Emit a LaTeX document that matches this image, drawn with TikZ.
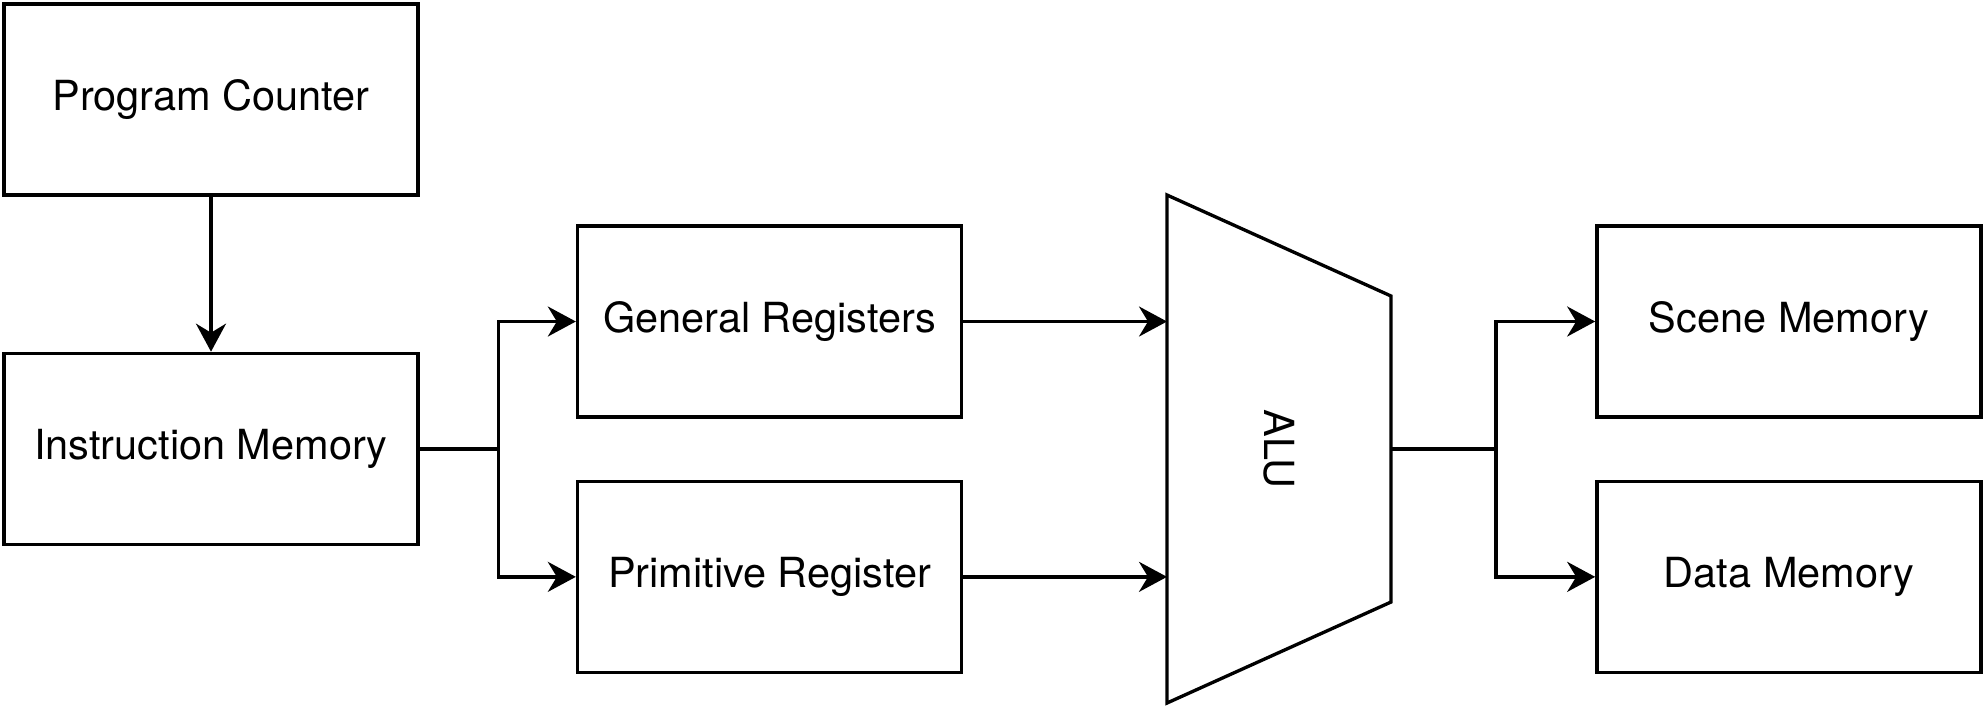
\documentclass[tikz,border=0pt]{standalone}
\usepackage{fontspec}
\setmainfont{TeX Gyre Heros}
\usepackage{tikz}
\usetikzlibrary{arrows.meta, positioning, calc}

\begin{document}
\begin{tikzpicture}[font=\fontsize{11.8}{14}\selectfont,
    line width=0.95pt,
    >={Stealth[length=2.8mm, width=3mm, inset=0.9mm]},
    unit/.style={draw, minimum width=4.14cm, minimum height=1.91cm},
    reg/.style={draw, minimum width=3.84cm, minimum height=1.91cm},
    ]
    \useasboundingbox (0,0) rectangle (19.84,-7.09);

    % Control
    \node[unit] at (2.11,-0.995) (pc) {Program Counter};
    \node[unit, below=1.55cm of pc] (im) {Instruction Memory};

    % Registers
    \node[reg] at (7.695,-3.215) (genreg) {General Registers};
    \node[reg, below=0.61cm of genreg] (primreg) {Primitive Register};

    % ALU
    \node[rotate=-90] at (12.79,-4.49) (alu) {ALU};
    \coordinate (alutl) at (11.67,-1.95);
    \coordinate (alubl) at (11.67,-7.03);
    \coordinate (alutr) at (13.91,-2.96);
    \coordinate (alubr) at (13.91,-6.02);
    \coordinate (aluout) at (13.91,-4.49);
    \draw (alutl) -- (alutr) -- (alubr) -- (alubl) -- cycle;

    % Memories
    \node[reg, right=6.32cm of genreg] (scnmem) {Scene Memory};
    \node[reg, below=0.61cm of scnmem] (datmem) {Data Memory};

    % Connections
    \draw[->] (pc) -- (im);

    \coordinate[right=0.79cm of im.east] (imsplit);
    \draw (im.east) -- (imsplit);
    \draw[->] (imsplit) |- (genreg.west);
    \draw[->] (imsplit) |- (primreg.west);

    \draw[->] (genreg.east) -- (genreg.east -| alutl);
    \draw[->] (primreg.east) -- (primreg.east -| alutl);

    \coordinate[right=1.05cm of aluout] (alusplit);
    \draw (aluout) -- (alusplit);
    \draw[->] (alusplit) |- (scnmem.west);
    \draw[->] (alusplit) |- (datmem.west);
\end{tikzpicture}
\end{document}
